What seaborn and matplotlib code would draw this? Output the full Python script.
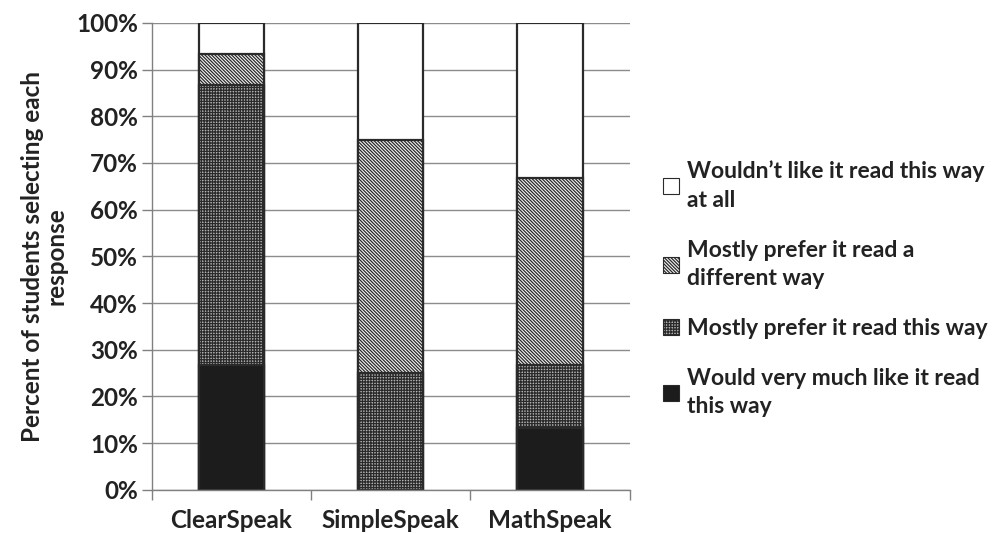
import numpy as np
import pandas as pd
import matplotlib.pyplot as plt
import seaborn as sns
from matplotlib.patches import Patch
from matplotlib.ticker import FixedLocator, PercentFormatter

# data (percent of students)
voices = ['ClearSpeak', 'SimpleSpeak', 'MathSpeak']
very_much = [26.7, 0.0, 13.3]
this_way = [60.0, 25.0, 13.4]
different_way = [6.7, 50.0, 40.0]
not_at_all = [6.6, 25.0, 33.3]

responses = ['Would very much like it read\nthis way',
             'Mostly prefer it read this way',
             'Mostly prefer it read a\ndifferent way',
             'Wouldn\u2019t like it read this way\nat all']

sns.set_style('white')
plt.rcParams['font.family'] = ['Lato', 'DejaVu Sans']
plt.rcParams['hatch.linewidth'] = 0.9

layers = np.array([very_much, this_way, different_way, not_at_all])
tops = np.cumsum(layers, axis=0)

# style of each layer, bottom to top
estilos = [
    dict(color='#1c1c1c', hatch=None),
    dict(color='#b4b4b4', hatch='++++++'),
    dict(color='#f4f4f4', hatch='\\' * 10),
    dict(color='white', hatch=None),
]

fig = plt.figure(figsize=(10.06, 5.33), dpi=100)
ax = fig.add_axes([0.151, 0.081, 0.475, 0.876])

# draw from the top layer down so each bar covers the one above
for i in range(3, -1, -1):
    df = pd.DataFrame({'Voz': voices, 'Topo': tops[i]})
    sns.barplot(data=df, x='Voz', y='Topo', order=voices, ax=ax,
                color=estilos[i]['color'], hatch=estilos[i]['hatch'],
                edgecolor='#2a2a2a', linewidth=1.6, width=0.41,
                saturation=1, errorbar=None)

ax.set_xlim(-0.5, 2.5)
ax.set_ylim(0, 100)
ax.set_yticks(range(0, 101, 10))
ax.yaxis.set_major_formatter(PercentFormatter(decimals=0))
ax.grid(True, axis='y', color='#8c8c8c', linewidth=1)
ax.set_axisbelow(True)

# category ticks between bars, labels centred under bars
ax.xaxis.set_major_locator(FixedLocator([-0.5, 0.5, 1.5, 2.5]))
ax.xaxis.set_minor_locator(FixedLocator([0, 1, 2]))
ax.set_xticklabels([])
ax.set_xticklabels(voices, minor=True)
ax.tick_params(axis='x', which='major', length=7, color='#808080', width=1, direction='out', bottom=True)
ax.tick_params(axis='x', which='minor', length=0, labelsize=17.5, pad=14)
ax.tick_params(axis='y', length=7, color='#808080', width=1, direction='out', left=True, labelsize=17.5, pad=3)
for lab in ax.get_xticklabels(minor=True) + ax.get_yticklabels():
    lab.set_fontweight('bold')
    lab.set_color('#222222')

for s in ['top', 'right']:
    ax.spines[s].set_visible(False)
for s in ['left', 'bottom']:
    ax.spines[s].set_color('#808080')
    ax.spines[s].set_linewidth(1)

ax.set_xlabel('')
ax.set_ylabel('Percent of students selecting each\nresponse', fontsize=17.5,
              fontweight='bold', color='#222222', labelpad=6, linespacing=1.05)

handles = [Patch(facecolor=estilos[i]['color'], hatch=estilos[i]['hatch'],
                 edgecolor='#2a2a2a', linewidth=0.8) for i in range(4)]
leg = ax.legend(handles[::-1], responses[::-1], loc='center left',
                bbox_to_anchor=(1.05, 0.43), frameon=False, fontsize=16.5,
                handlelength=0.7, handleheight=0.7, handletextpad=0.35,
                labelspacing=1.25, borderaxespad=0)
for t in leg.get_texts():
    t.set_fontweight('bold')
    t.set_color('#222222')
    t.set_linespacing(1.45)

plt.savefig('out.png', dpi=100)
plt.close()
